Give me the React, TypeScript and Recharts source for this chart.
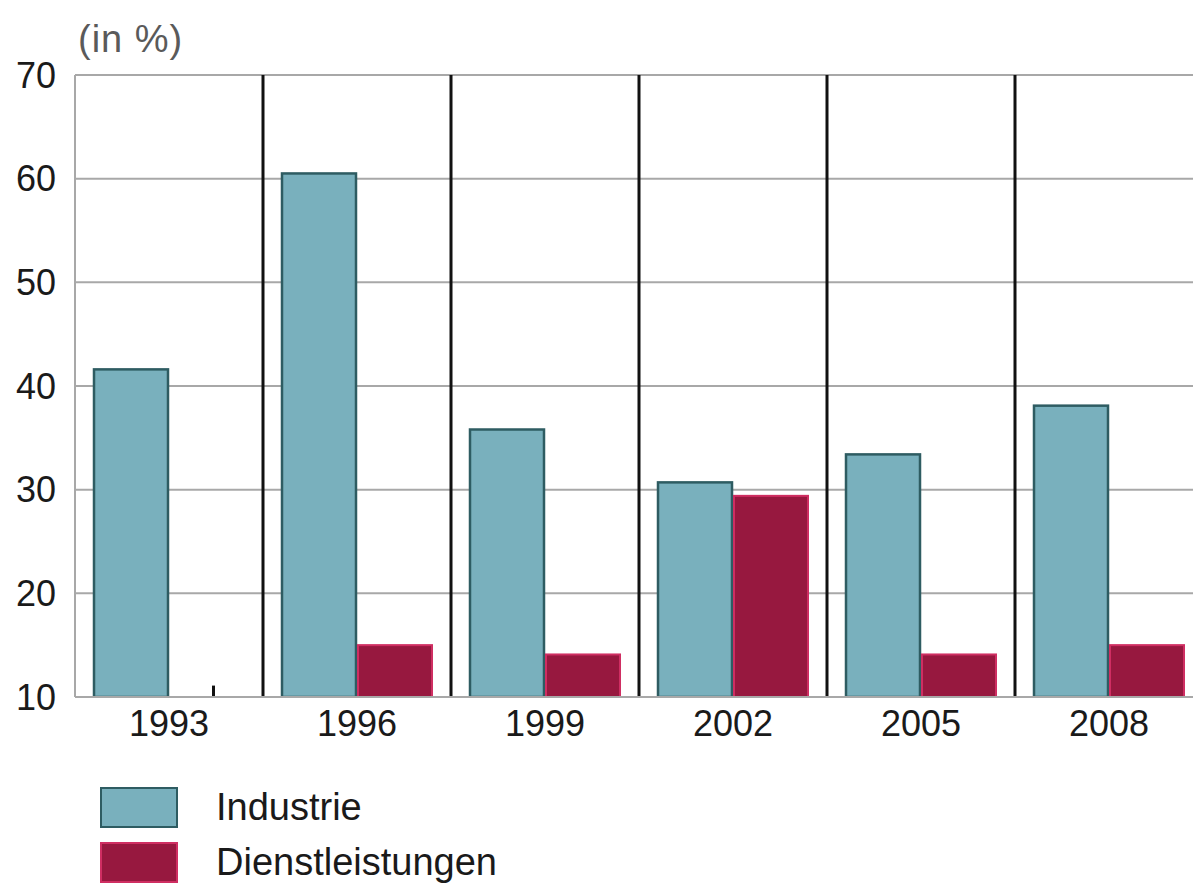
import React from 'react'
import { BarChart, Bar, XAxis, YAxis, CartesianGrid } from 'recharts'

const years = ['1993', '1996', '1999', '2002', '2005', '2008']
const industrie = [41.7, 60.6, 35.9, 30.8, 33.5, 38.2]
// 1993: only a small tick mark is drawn for Dienstleistungen
const dienstleistungen = [11.1, 15.1, 14.2, 29.5, 14.2, 15.1]
const yTicks = [10, 20, 30, 40, 50, 60, 70]

const TEAL = '#79b0bd'
const TEAL_EDGE = '#2e5c62'
const RED = '#97183f'
const RED_EDGE = '#cf2e62'
const FONT = '"Liberation Sans", Arial, sans-serif'

const data = years.map((year, i) => ({
  year,
  Industrie: industrie[i],
  Dienstleistungen: dienstleistungen[i],
}))

function DienstShape(props: any) {
  const { x, y, width, height, index } = props
  if (index === 0) {
    // missing value marker: thin black tick
    return <rect x={x + width / 2 + 5} y={y} width={3} height={height} fill="#111" />
  }
  return (
    <rect
      x={x + 1}
      y={y + 1}
      width={width - 2}
      height={height - 1}
      fill={RED}
      stroke={RED_EDGE}
      strokeWidth={2}
    />
  )
}

function IndustrieShape(props: any) {
  const { x, y, width, height } = props
  return (
    <rect
      x={x + 1}
      y={y + 1}
      width={width - 2}
      height={height - 1}
      fill={TEAL}
      stroke={TEAL_EDGE}
      strokeWidth={2.5}
    />
  )
}

function LegendBox() {
  const items = [
    { label: 'Industrie', fill: TEAL, edge: TEAL_EDGE },
    { label: 'Dienstleistungen', fill: RED, edge: RED_EDGE },
  ]
  return (
    <div style={{ fontFamily: FONT, position: 'absolute', top: 780, left: 100 }}>
      {items.map((it) => (
        <div key={it.label} style={{ display: 'flex', alignItems: 'center', height: 55 }}>
          <div
            style={{
              width: 74,
              height: 37,
              background: it.fill,
              border: `2.5px solid ${it.edge}`,
            }}
          />
          <span style={{ marginLeft: 38, fontSize: 38, color: '#1a1a1a' }}>{it.label}</span>
        </div>
      ))}
    </div>
  )
}

export default function App() {
  return (
    <div style={{ width: 1193, height: 884, overflow: 'hidden', position: 'relative', background: '#fff' }}>
      <style>{`body{margin:0}`}</style>
      <BarChart
        width={1203}
        height={884}
        data={data}
        margin={{ top: 75, right: 0, bottom: 127, left: 0 }}
        barCategoryGap={18}
        barGap={0}
      >
        <CartesianGrid vertical={false} stroke="#a8a8a8" strokeWidth={2} />
        <CartesianGrid
          horizontal={false}
          stroke="#111"
          strokeWidth={3}
          verticalCoordinatesGenerator={({ offset }: any) =>
            years.slice(1).map((_, i) => offset.left + ((i + 1) * offset.width) / years.length)
          }
        />
        <XAxis
          dataKey="year"
          height={60}
          tickLine={false}
          tickSize={0}
          tickMargin={13}
          axisLine={{ stroke: '#a8a8a8', strokeWidth: 2 }}
          tick={{ fontSize: 36, fill: '#1a1a1a', fontFamily: FONT }}
        />
        <YAxis
          width={75}
          domain={[10, 70]}
          ticks={yTicks}
          allowDataOverflow
          tickLine={false}
          tickSize={0}
          tickMargin={19}
          axisLine={{ stroke: '#a8a8a8', strokeWidth: 2 }}
          tick={{ fontSize: 36, fill: '#1a1a1a', fontFamily: FONT }}
          label={{
            content: () => (
              <text x={78} y={52} fontSize={38} fill="#5a5a5a" fontFamily={FONT} letterSpacing={1}>
                (in %)
              </text>
            ),
          }}
        />
        <Bar dataKey="Industrie" shape={IndustrieShape} isAnimationActive={false} />
        <Bar dataKey="Dienstleistungen" shape={DienstShape} isAnimationActive={false} />
      </BarChart>
      <LegendBox />
    </div>
  )
}
